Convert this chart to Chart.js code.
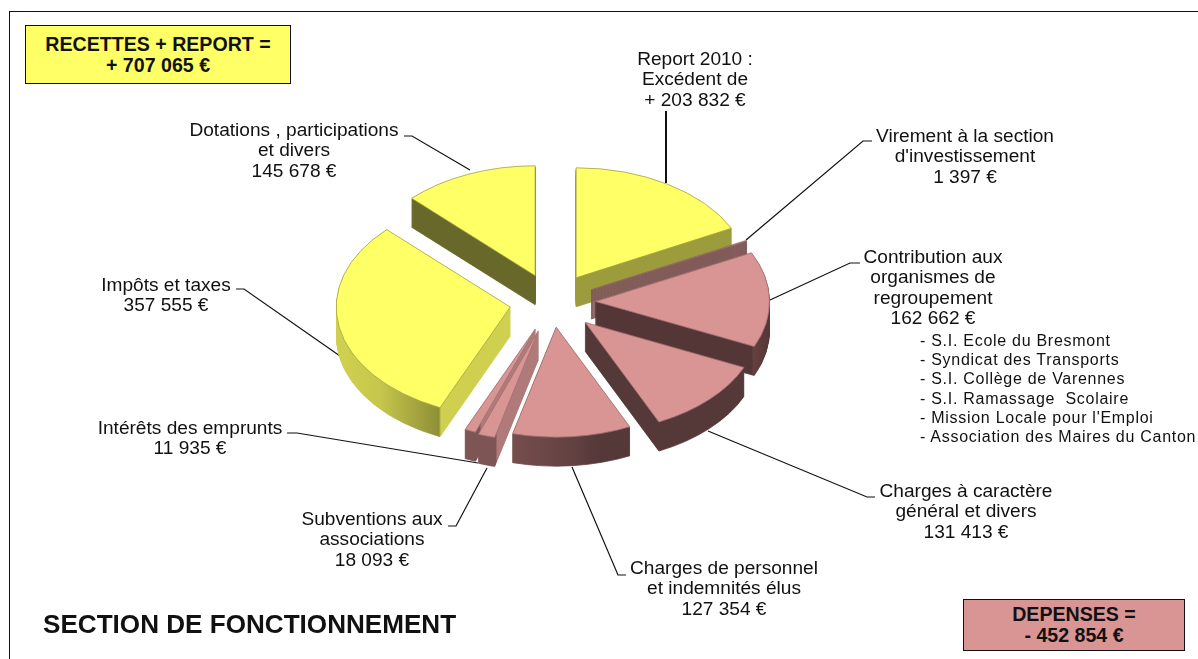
<!DOCTYPE html>
<html lang="fr">
<head>
<meta charset="utf-8">
<title>Section de fonctionnement</title>
<script src="https://cdn.jsdelivr.net/npm/chart.js@4/dist/chart.umd.js"></script>
<style>
    html, body { margin: 0; padding: 0; background: #fff; overflow: hidden; }
    #page { position: relative; width: 1198px; height: 659px; font-family: "Liberation Sans", Arial, sans-serif; color: #111; }
    #pie { position: absolute; left: 0; top: 0; }
    #frame { position: absolute; left: 9px; top: 11px; right: 0; bottom: 0; border-left: 1px solid #111; border-top: 1px solid #111; }
    .label { position: absolute; transform: translateX(-50%); font-size: 19.1px; line-height: 20.4px; text-align: center; white-space: pre; }
    #members { position: absolute; left: 920px; top: 331px; font-size: 16px; line-height: 19.2px; letter-spacing: 0.72px; white-space: pre; }
    .box { position: absolute; box-sizing: border-box; border: 1.5px solid #111; font-weight: bold; font-size: 19.6px; line-height: 21px; text-align: center; white-space: pre; }
    #boxIn { left: 25px; top: 25px; width: 266px; height: 59px; padding-top: 8px; background: #ffff66; }
    #boxOut { left: 963px; top: 599px; width: 222px; height: 52px; padding-top: 4px; background: #d99594; }
    #title { position: absolute; left: 43px; top: 609px; font-weight: bold; font-size: 26.1px; line-height: 30px; white-space: pre; }
</style>
</head>
<body>
<div id="page">
    <div id="frame"></div>
    <canvas id="pie" width="1198" height="659"></canvas>
    <div class="box" id="boxIn"></div>
    <div class="box" id="boxOut"></div>
    <div id="title"></div>
    <div id="members"></div>
</div>
<script>
const categories = [
    'Report 2010 :\nExcédent de',
    "Virement à la section\nd'investissement",
    'Contribution aux\norganismes de\nregroupement',
    'Charges à caractère\ngénéral et divers',
    'Charges de personnel\net indemnités élus',
    'Subventions aux\nassociations',
    'Intérêts des emprunts',
    'Impôts et taxes',
    'Dotations , participations\net divers'
];
const amounts = [203832, 1397, 162662, 131413, 127354, 18093, 11935, 357555, 145678];
const amountPrefix = ['+ ', '', '', '', '', '', '', '', ''];
const members = [
    '- S.I. Ecole du Bresmont',
    '- Syndicat des Transports',
    '- S.I. Collège de Varennes',
    '- S.I. Ramassage  Scolaire',
    "- Mission Locale pour l'Emploi",
    '- Association des Maires du Canton'
];
const incomeText = 'RECETTES + REPORT =\n+ 707 065 €';
const spendingText = 'DEPENSES =\n- 452 854 €';
const titleText = 'SECTION DE FONCTIONNEMENT';

// styling, kept apart from the values
const YELLOW = '#ffff66';
const PINK = '#d99594';
const topColors = [YELLOW, PINK, PINK, PINK, PINK, PINK, PINK, YELLOW, YELLOW];
const edgeColors = ['#a3a347', '#8c6464', '#a07070', '#a07070', '#a07070', '#a07070', '#a07070', '#a3a347', '#a3a347'];
// wall colours along page x: [x, colour]
const wallStops = [
    [[575, '#9c9c3c'], [730, '#9c9c3c']],
    [[590, '#80585a'], [746, '#80585a']],
    [[595, '#553636'], [752, '#553636'], [753, '#664040'], [770, '#553636']],
    [[584, '#553838'], [657, '#553838'], [741, '#553838']],
    [[512, '#754d4d'], [570, '#644242'], [600, '#553838'], [630, '#553838']],
    [[481, '#7d5555'], [496, '#7d5555'], [497, '#b07a7a'], [540, '#b07a7a']],
    [[466, '#7d5555'], [480, '#7d5555'], [481, '#b07a7a'], [540, '#b07a7a']],
    [[338, '#d0d050'], [380, '#c6c64c'], [439, '#8f8f38'], [441, '#cfcf50'], [510, '#cfcf50']],
    [[413, '#68682a'], [536, '#68682a']]
];
const drawOrder = [8, 0, 1, 2, 3, 7, 6, 5, 4];
const explodeBy = [45, 43, 43, 46, 40, 48, 46, 43, 45];

const labelSpots = [[695, 49], [965, 126], [933, 247], [966, 481], [724, 558], [372, 509], [190, 418], [166, 275], [294, 120]];
const leaderLines = [
    [[666, 111], [666, 183]],
    [[872, 141], [863, 141], [746, 240]],
    [[860, 263], [850, 263], [770, 300]],
    [[875, 497], [867, 497], [708, 431]],
    [[626, 575], [618, 575], [572, 467]],
    [[448, 526], [456, 526], [487, 468]],
    [[287, 433], [297, 433], [478, 463]],
    [[236, 289], [244, 289], [340, 356]],
    [[404, 136], [412, 136], [470, 170]]
];
const leaderWidths = [2, 1.2, 1.2, 1.2, 1.2, 1.2, 1.2, 1.2, 1.2];

const TILT = 0.632;
const DEPTH = 29;
const RADIUS = 174;

function formatEuro(value) {
    return String(value).replace(/\B(?=(\d{3})+$)/g, ' ') + ' €';
}

function drawSquashed(ctx, arc, shiftX, shiftY, style) {
    const kept = arc.options;
    ctx.save();
    ctx.translate(arc.x + shiftX, arc.y + shiftY);
    ctx.scale(1, TILT);
    ctx.translate(-arc.x, -arc.y);
    if (style) {
        arc.options = style;
    }
    arc.draw(ctx);
    arc.options = kept;
    ctx.restore();
}

function wallStyle(ctx, stops, shiftX) {
    const first = stops[0][0];
    const last = stops[stops.length - 1][0];
    const gradient = ctx.createLinearGradient(first - shiftX, 0, last - shiftX, 0);
    stops.forEach(stop => gradient.addColorStop((stop[0] - first) / (last - first), stop[1]));
    return {
        backgroundColor: gradient,
        borderColor: gradient,
        borderWidth: 1,
        borderAlign: 'center',
        borderJoinStyle: 'bevel',
        borderDash: [],
        borderDashOffset: 0,
        borderRadius: 0,
        offset: 0,
        spacing: 0,
        circular: true
    };
}

const explodedPie = {
    id: 'explodedPie',
    beforeDatasetsDraw(chart) {
        const ctx = chart.ctx;
        const arcs = chart.getDatasetMeta(0).data;

        ctx.save();
        ctx.strokeStyle = '#111';
        leaderLines.forEach((line, n) => {
            ctx.lineWidth = leaderWidths[n];
            ctx.beginPath();
            line.forEach((p, i) => i ? ctx.lineTo(p[0], p[1]) : ctx.moveTo(p[0], p[1]));
            ctx.stroke();
        });
        ctx.restore();

        drawOrder.forEach(index => {
            const arc = arcs[index];
            const mid = (arc.startAngle + arc.endAngle) / 2;
            const shiftX = Math.cos(mid) * explodeBy[index];
            const shiftY = Math.sin(mid) * explodeBy[index] * TILT;
            const wall = wallStyle(ctx, wallStops[index], shiftX);
            for (let y = DEPTH; y > 0; y--) {
                drawSquashed(ctx, arc, shiftX, shiftY + y, wall);
            }
            drawSquashed(ctx, arc, shiftX, shiftY);
        });
        return false;
    }
};

new Chart(document.getElementById('pie'), {
    type: 'pie',
    data: {
        labels: categories,
        datasets: [{
            data: amounts,
            backgroundColor: topColors,
            borderColor: edgeColors,
            borderWidth: 1,
            radius: RADIUS
        }]
    },
    options: {
        responsive: false,
        animation: false,
        layout: { padding: { right: 93, bottom: 55 } },
        plugins: { legend: { display: false }, tooltip: { enabled: false } }
    },
    plugins: [explodedPie]
});

const page = document.getElementById('page');
categories.forEach((name, i) => {
    const label = document.createElement('div');
    label.className = 'label';
    label.style.left = labelSpots[i][0] + 'px';
    label.style.top = labelSpots[i][1] + 'px';
    label.textContent = name + '\n' + amountPrefix[i] + formatEuro(amounts[i]);
    page.appendChild(label);
});
document.getElementById('members').textContent = members.join('\n');
document.getElementById('boxIn').textContent = incomeText;
document.getElementById('boxOut').textContent = spendingText;
document.getElementById('title').textContent = titleText;
</script>
</body>
</html>
